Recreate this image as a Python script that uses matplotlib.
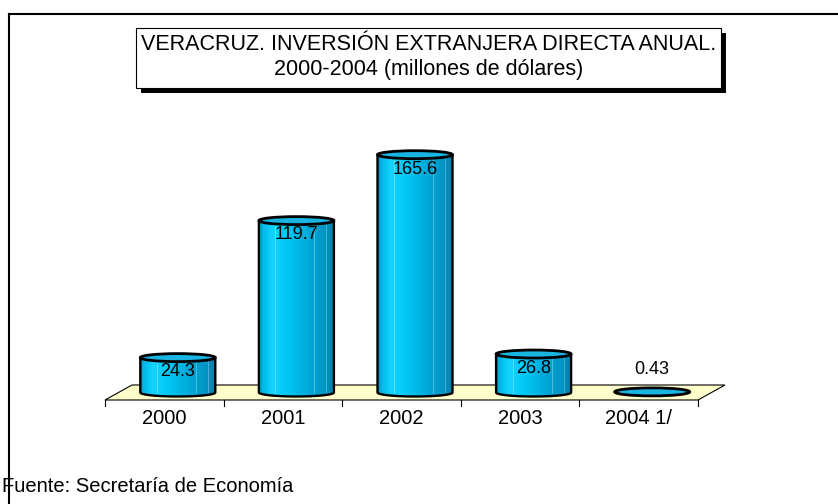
import numpy as np
import matplotlib
matplotlib.use("Agg")
import matplotlib.pyplot as plt
from matplotlib.patches import Polygon, Ellipse, Rectangle
from matplotlib.colors import LinearSegmentedColormap
from matplotlib.lines import Line2D

plt.rcParams['font.family'] = ['Liberation Sans', 'DejaVu Sans']

# data
years = ["2000", "2001", "2002", "2003", "2004 1/"]
inversion = [24.3, 119.7, 165.6, 26.8, 0.43]
value_labels = ["24.3", "119.7", "165.6", "26.8", "0.43"]
title_lines = ["VERACRUZ. INVERSIÓN EXTRANJERA DIRECTA ANUAL.",
               "2000-2004 (millones de dólares)"]
fuente = "Fuente: Secretaría de Economía"

W, H = 838, 504
fig = plt.figure(figsize=(W / 100, H / 100), dpi=100)

# pixel anchors for the pseudo-3d plot area
x_left_px = 105.0      # front-left corner of the floor
step_px = 118.6        # px per category
base_px = 392.5        # bar base (middle of floor depth)
unit_px = 1.436        # px per million dollars
depth_dx = 27 / step_px
half_depth = 7.5 / unit_px

ax = fig.add_axes([0, 0, 1, 1])
ax.set_xlim(-0.5 - x_left_px / step_px, -0.5 + (W - x_left_px) / step_px)
ax.set_ylim(-(H - base_px) / unit_px, base_px / unit_px)
ax.axis("off")

n = len(years)
front_y = -half_depth
back_y = half_depth

# floor
floor = Polygon([(-0.5, front_y), (n - 0.5, front_y),
                 (n - 0.5 + depth_dx, back_y), (-0.5 + depth_dx, back_y)],
                closed=True, facecolor="#FFFFCC", edgecolor="black", lw=0.8, zorder=1)
ax.add_patch(floor)

# ticks under the front edge
tick_len = 6 / unit_px
for b in np.arange(-0.5, n, 1.0):
    ax.plot([b, b], [front_y, front_y - tick_len], color="black", lw=0.8, zorder=2)

# category labels
for i, lab in enumerate(years):
    ax.text(i, front_y - 18 / unit_px, lab, ha="center", va="center", fontsize=14.5)

# cylinders
cmap = LinearSegmentedColormap.from_list("cyl", [
    (0.0, "#0090C0"), (0.05, "#00B8E8"), (0.18, "#14D4FF"), (0.4, "#00C4F2"),
    (0.65, "#00AADA"), (0.88, "#0094C2"), (1.0, "#0080AC")])
grad = np.linspace(0, 1, 256).reshape(1, -1)

bar_w = 75 / step_px
ell_h = 8 / unit_px
theta = np.linspace(np.pi, 2 * np.pi, 60)

for i, v in enumerate(inversion):
    cx = i + depth_dx / 2
    x0, x1 = cx - bar_w / 2, cx + bar_w / 2
    if v > 2:
        arc_x = cx + bar_w / 2 * np.cos(theta)
        arc_y = ell_h / 2 * np.sin(theta)
        pts = [(x0, v)] + list(zip(arc_x, arc_y)) + [(x1, v)]
        body = Polygon(pts, closed=True, facecolor="none", edgecolor="black",
                       lw=1.7, zorder=4, joinstyle="round")
        clip = Polygon(pts, closed=True, transform=ax.transData)
        im = ax.imshow(grad, cmap=cmap, extent=[x0, x1, -ell_h, v],
                       aspect="auto", zorder=3)
        im.set_clip_path(clip)
        ax.add_patch(body)
        # thin light streaks
        for s in (0.22, 0.74, 0.9):
            xs = x0 + s * bar_w
            ax.plot([xs, xs], [0, v], color="white", lw=0.6, alpha=0.35, zorder=3.5)
    top = Ellipse((cx, v), bar_w, ell_h, facecolor="#18B4E2", edgecolor="black",
                  lw=2.0, zorder=5)
    ax.add_patch(top)
    if v > 15:
        ax.text(cx, v - 10, value_labels[i], ha="center", va="center",
                fontsize=13, zorder=6)
    else:
        ax.text(cx, v + 15.5, value_labels[i], ha="center", va="center",
                fontsize=13, zorder=6)

# outer border (left and top edges visible)
fig.add_artist(Line2D([9 / W, 9 / W], [0, 1 - 14 / H], color="black", lw=1.5))
fig.add_artist(Line2D([9 / W, 1], [1 - 14 / H, 1 - 14 / H], color="black", lw=1.5))

# title box with shadow
bx0, bx1, by0, by1 = 136, 721, 28, 88
shadow = Rectangle(((bx0 + 5) / W, 1 - (by1 + 5) / H), (bx1 - bx0) / W, (by1 - by0) / H,
                   transform=fig.transFigure, facecolor="black", edgecolor="none", zorder=8)
box = Rectangle((bx0 / W, 1 - by1 / H), (bx1 - bx0) / W, (by1 - by0) / H,
                transform=fig.transFigure, facecolor="white", edgecolor="black",
                lw=0.8, zorder=9)
fig.add_artist(shadow)
fig.add_artist(box)
tx = (bx0 + bx1) / 2 / W
fig.text(tx, 1 - 45 / H, title_lines[0], ha="center", va="center", fontsize=15.5, zorder=10)
fig.text(tx, 1 - 70 / H, title_lines[1], ha="center", va="center", fontsize=15.5, zorder=10)

# source
fig.text(2 / W, 1 - 486 / H, fuente, ha="left", va="center", fontsize=14.5)

fig.savefig("out.png", dpi=100)
